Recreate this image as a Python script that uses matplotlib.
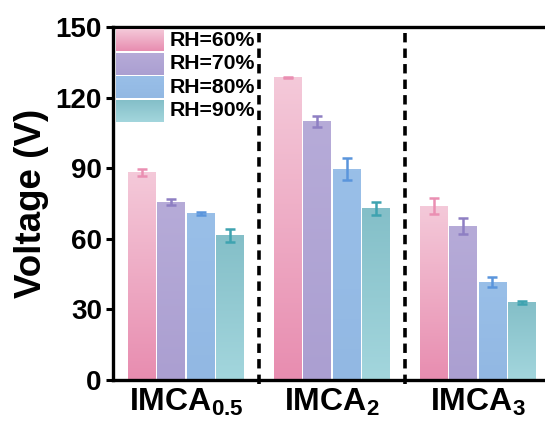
import numpy as np
import matplotlib
matplotlib.use("Agg")
import matplotlib.pyplot as plt
from matplotlib.colors import to_rgb

plt.rcParams['font.family'] = ['Liberation Sans', 'DejaVu Sans']
plt.rcParams['font.weight'] = 'bold'
plt.rcParams['mathtext.fontset'] = 'custom'
plt.rcParams['mathtext.rm'] = 'Liberation Sans'
plt.rcParams['mathtext.bf'] = 'Liberation Sans:bold'

# data
groups = [r'$\mathbf{IMCA_{0.5}}$', r'$\mathbf{IMCA_{2}}$', r'$\mathbf{IMCA_{3}}$']
series = ['RH=60%', 'RH=70%', 'RH=80%', 'RH=90%']
rh60 = [88.2, 128.6, 73.9]
rh70 = [75.5, 109.9, 65.4]
rh80 = [70.8, 89.5, 41.6]
rh90 = [61.3, 72.8, 32.9]
err60 = [1.4, 0.3, 3.5]
err70 = [1.2, 2.3, 3.4]
err80 = [0.6, 4.7, 2.3]
err90 = [2.7, 2.8, 0.5]
yticks = [0, 30, 60, 90, 120, 150]

values = [rh60, rh70, rh80, rh90]
errors = [err60, err70, err80, err90]

# (top colour, bottom colour, error colour)
styles = [('#f4c9d9', '#e88db0', '#ea8fb2'),
          ('#b6abd8', '#ab9fd1', '#8e7fc3'),
          ('#99bfe8', '#92b8e3', '#5a95dc'),
          ('#84bfc8', '#a3d6dd', '#3ea3b0')]


def gradient(top, bottom, n=64):
    t = np.linspace(0, 1, n)[:, None, None]
    return (1 - t) * np.array(to_rgb(top)) + t * np.array(to_rgb(bottom))


fig = plt.figure(figsize=(5.45, 4.23), dpi=100)
ax = fig.add_axes([0.2073, 0.1017, 0.7927, 0.8346])

x = np.arange(len(groups))
width = 0.19
offsets = [-0.3, -0.1, 0.1, 0.3]

for vals, errs, off, (top, bot, ec) in zip(values, errors, offsets, styles):
    bars = ax.bar(x + off, vals, width, color='none', edgecolor='none', zorder=3)
    for b in bars:
        x0 = b.get_x()
        h = b.get_height()
        ax.imshow(gradient(top, bot), extent=(x0, x0 + b.get_width(), 0, h),
                  aspect='auto', zorder=2, interpolation='bilinear')
    ax.errorbar(x + off, vals, yerr=errs, fmt='none', ecolor=ec, elinewidth=1.8,
                capsize=3.5, capthick=1.8, zorder=4)

for xv in [0.5, 1.5]:
    ax.plot([xv, xv], [-1.5, 150], color='black', lw=2.6, ls=(0, (2.6, 1.7)),
            clip_on=False, zorder=5)

ax.set_xlim(-0.5, 2.46)
ax.set_ylim(0, 150)
ax.set_yticks(yticks)
ax.set_xticks(x)
ax.set_xticklabels(groups, fontsize=23)
ax.tick_params(axis='x', length=0, pad=5)
ax.tick_params(axis='y', direction='out', length=5, width=2.2, labelsize=20, pad=3)
for lab in ax.get_yticklabels():
    lab.set_fontweight('bold')
for s in ['left', 'bottom', 'top']:
    ax.spines[s].set_linewidth(2.4)
ax.spines['right'].set_visible(False)
ax.set_ylabel('Voltage (V)', fontsize=26.5, fontweight='bold', labelpad=5)

# legend with gradient handles
lx0, lx1 = 0.006, 0.116
row_top = 0.993
row_h = 0.0665
box_h = 0.062
for i, (name, (top, bot, ec)) in enumerate(zip(series, styles)):
    y1 = row_top - i * row_h
    y0 = y1 - box_h
    ax.imshow(gradient(top, bot), extent=(lx0, lx1, y0, y1), transform=ax.transAxes,
              aspect='auto', zorder=6, interpolation='bilinear')
    ax.text(0.13, (y0 + y1) / 2, name, transform=ax.transAxes, fontsize=15.3,
            fontweight='bold', va='center', ha='left', zorder=7)

ax.set_xlim(-0.5, 2.46)
ax.set_ylim(0, 150)

fig.savefig('out.png', dpi=100)
